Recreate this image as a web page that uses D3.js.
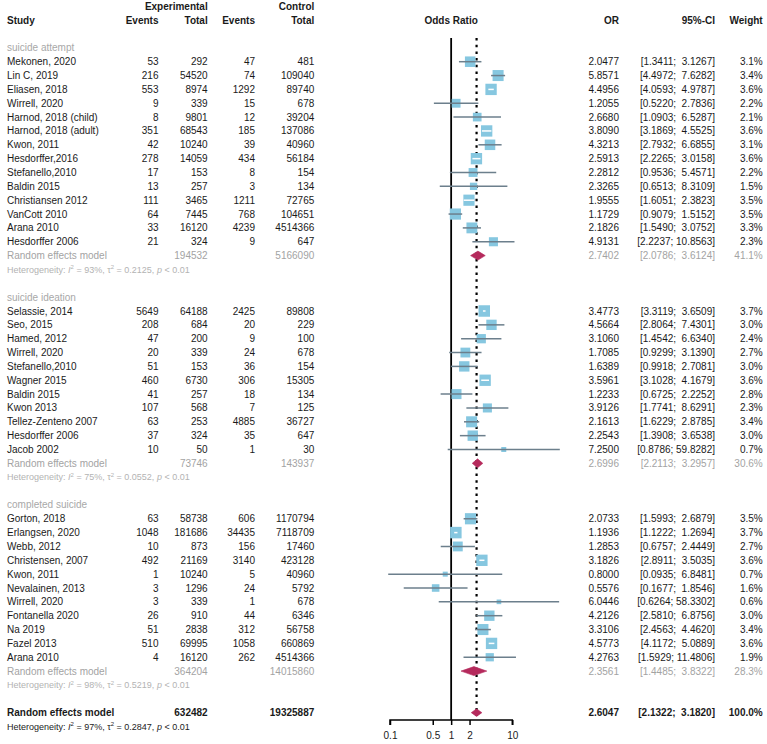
<!DOCTYPE html>
<html>
<head>
<meta charset="utf-8">
<script src="https://cdn.jsdelivr.net/npm/d3@7"></script>
<style>
  body { margin: 0; background: #fff; }
  svg { display: block; font-family: "Liberation Sans", Arial, sans-serif; }
  text { white-space: pre; }
</style>
</head>
<body>
<svg id="chart" width="767" height="744"></svg>
<script>
// study rows: name, exp events, exp total, ctrl events, ctrl total, OR, lower, upper, weight %
const attempt = [
  ["Mekonen, 2020", 53, 292, 47, 481, 2.0477, 1.3411, 3.1267, 3.1],
  ["Lin C, 2019", 216, 54520, 74, 109040, 5.8571, 4.4972, 7.6282, 3.4],
  ["Eliasen, 2018", 553, 8974, 1292, 89740, 4.4956, 4.0593, 4.9787, 3.6],
  ["Wirrell, 2020", 9, 339, 15, 678, 1.2055, 0.5220, 2.7836, 2.2],
  ["Harnod, 2018 (child)", 8, 9801, 12, 39204, 2.6680, 1.0903, 6.5287, 2.1],
  ["Harnod, 2018 (adult)", 351, 68543, 185, 137086, 3.8090, 3.1869, 4.5525, 3.6],
  ["Kwon, 2011", 42, 10240, 39, 40960, 4.3213, 2.7932, 6.6855, 3.1],
  ["Hesdorffer,2016", 278, 14059, 434, 56184, 2.5913, 2.2265, 3.0158, 3.6],
  ["Stefanello,2010", 17, 153, 8, 154, 2.2812, 0.9536, 5.4571, 2.2],
  ["Baldin 2015", 13, 257, 3, 134, 2.3265, 0.6513, 8.3109, 1.5],
  ["Christiansen 2012", 111, 3465, 1211, 72765, 1.9555, 1.6051, 2.3823, 3.5],
  ["VanCott 2010", 64, 7445, 768, 104651, 1.1729, 0.9079, 1.5152, 3.5],
  ["Arana 2010", 33, 16120, 4239, 4514366, 2.1826, 1.5490, 3.0752, 3.3],
  ["Hesdorffer 2006", 21, 324, 9, 647, 4.9131, 2.2237, 10.8563, 2.3]
];
const ideation = [
  ["Selassie, 2014", 5649, 64188, 2425, 89808, 3.4773, 3.3119, 3.6509, 3.7],
  ["Seo, 2015", 208, 684, 20, 229, 4.5664, 2.8064, 7.4301, 3.0],
  ["Hamed, 2012", 47, 200, 9, 100, 3.1060, 1.4542, 6.6340, 2.4],
  ["Wirrell, 2020", 20, 339, 24, 678, 1.7085, 0.9299, 3.1390, 2.7],
  ["Stefanello,2010", 51, 153, 36, 154, 1.6389, 0.9918, 2.7081, 3.0],
  ["Wagner 2015", 460, 6730, 306, 15305, 3.5961, 3.1028, 4.1679, 3.6],
  ["Baldin 2015", 41, 257, 18, 134, 1.2233, 0.6725, 2.2252, 2.8],
  ["Kwon 2013", 107, 568, 7, 125, 3.9126, 1.7741, 8.6291, 2.3],
  ["Tellez-Zenteno 2007", 63, 253, 4885, 36727, 2.1613, 1.6229, 2.8785, 3.4],
  ["Hesdorffer 2006", 37, 324, 35, 647, 2.2543, 1.3908, 3.6538, 3.0],
  ["Jacob 2002", 10, 50, 1, 30, 7.2500, 0.8786, 59.8282, 0.7]
];
const completed = [
  ["Gorton, 2018", 63, 58738, 606, 1170794, 2.0733, 1.5993, 2.6879, 3.5],
  ["Erlangsen, 2020", 1048, 181686, 34435, 7118709, 1.1936, 1.1222, 1.2694, 3.7],
  ["Webb, 2012", 10, 873, 156, 17460, 1.2853, 0.6757, 2.4449, 2.7],
  ["Christensen, 2007", 492, 21169, 3140, 423128, 3.1826, 2.8911, 3.5035, 3.6],
  ["Kwon, 2011", 1, 10240, 5, 40960, 0.8000, 0.0935, 6.8481, 0.7],
  ["Nevalainen, 2013", 3, 1296, 24, 5792, 0.5576, 0.1677, 1.8546, 1.6],
  ["Wirrell, 2020", 3, 339, 1, 678, 6.0446, 0.6264, 58.3302, 0.6],
  ["Fontanella 2020", 26, 910, 44, 6346, 4.2126, 2.5810, 6.8756, 3.0],
  ["Na 2019", 51, 2838, 312, 56758, 3.3106, 2.4563, 4.4620, 3.4],
  ["Fazel 2013", 510, 69995, 1058, 660869, 4.5773, 4.1172, 5.0889, 3.6],
  ["Arana 2010", 4, 16120, 262, 4514366, 4.2763, 1.5929, 11.4806, 1.9]
];
const subgroupNames = ["suicide attempt", "suicide ideation", "completed suicide"];
// pooled: exp total, ctrl total, OR, lower, upper, weight %
const pooled = [
  [194532, 5166090, 2.7402, 2.0786, 3.6124, 41.1],
  [73746, 143937, 2.6996, 2.2113, 3.2957, 30.6],
  [364204, 14015860, 2.3561, 1.4485, 3.8322, 28.3]
];
const heterogeneity = [
  ["93%", "0.2125", "< 0.01"],
  ["75%", "0.0552", "< 0.01"],
  ["98%", "0.5219", "< 0.01"]
];
const overall = [632482, 19325887, 2.6047, 2.1322, 3.1820, 100.0];
const overallHeterogeneity = ["97%", "0.2847", "< 0.01"];
const axisTicks = [0.1, 0.5, 1, 2, 10];

const svg = d3.select('#chart');
const groups = [attempt, ideation, completed];

// build the row layout: index -> what goes there
const rows = [];
let r = 0;
groups.forEach(function(g, gi) {
  rows.push({ type: 'label', row: r++, text: subgroupNames[gi] });
  g.forEach(function(d) { rows.push({ type: 'study', row: r++, d: d }); });
  rows.push({ type: 'pooled', row: r++, d: pooled[gi] });
  rows.push({ type: 'het', row: r++, d: heterogeneity[gi] });
  r++;
});
rows.push({ type: 'overall', row: r++, d: overall });
rows.push({ type: 'het-overall', row: r++, d: overallHeterogeneity });

const y = d3.scaleLinear().domain([0, 1]).range([47.85, 61.7]);
const x = d3.scaleLog().domain([0.1, 10]).range([390, 512.3]);
const boxSize = d3.scaleSqrt().domain([0, 3.7]).range([0, 11.5]);

const col = { name: 7, ee: 158.5, ne: 207.7, ec: 255, nc: 314.3, or: 619, ci: 715, w: 762.7 };

function txt(xp, yp, s, anchor, opts) {
  opts = opts || {};
  return svg.append('text')
    .attr('x', xp).attr('y', yp).attr('dy', '0.35em')
    .attr('text-anchor', anchor)
    .attr('font-size', opts.size || 10)
    .attr('font-weight', opts.bold ? 'bold' : null)
    .attr('fill', opts.fill || '#1a1a1a')
    .text(s);
}
const ciText = (lo, hi) => '[' + lo.toFixed(4) + '; ' + (hi < 10 ? ' ' : '') + hi.toFixed(4) + ']';

// headers
txt(col.ne, y(-3), 'Experimental', 'end', { bold: true });
txt(col.nc, y(-3), 'Control', 'end', { bold: true });
txt(col.name, y(-2), 'Study', 'start', { bold: true });
txt(col.ee, y(-2), 'Events', 'end', { bold: true });
txt(col.ne, y(-2), 'Total', 'end', { bold: true });
txt(col.ec, y(-2), 'Events', 'end', { bold: true });
txt(col.nc, y(-2), 'Total', 'end', { bold: true });
txt(x(1), y(-2), 'Odds Ratio', 'middle', { bold: true });
txt(col.or, y(-2), 'OR', 'end', { bold: true });
txt(col.ci, y(-2), '95%-CI', 'end', { bold: true });
txt(col.w, y(-2), 'Weight', 'end', { bold: true });

// reference lines
const axisY = 720;
svg.append('line')
  .attr('x1', x(1)).attr('x2', x(1))
  .attr('y1', 38).attr('y2', axisY)
  .attr('stroke', '#000').attr('stroke-width', 1.8);
svg.append('line')
  .attr('x1', x(overall[2])).attr('x2', x(overall[2]))
  .attr('y1', 38).attr('y2', 716)
  .attr('stroke', '#000').attr('stroke-width', 2.2)
  .attr('stroke-dasharray', '2.5,4.2');

function heteroLine(yp, d, fill) {
  const t = svg.append('text')
    .attr('x', col.name).attr('y', yp).attr('dy', '0.35em')
    .attr('font-size', 9).attr('fill', fill);
  t.append('tspan').text('Heterogeneity: ');
  t.append('tspan').attr('font-style', 'italic').text('I');
  t.append('tspan').attr('font-size', 6).attr('dy', -3.5).text('2');
  t.append('tspan').attr('dy', 3.5).text(' = ' + d[0] + ', \u03c4');
  t.append('tspan').attr('font-size', 6).attr('dy', -3.5).text('2');
  t.append('tspan').attr('dy', 3.5).text(' = ' + d[1] + ', ');
  t.append('tspan').attr('font-style', 'italic').text('p');
  t.append('tspan').text(' ' + d[2]);
}

function diamond(yp, d, half) {
  const pts = [[x(d[3]), yp], [x(d[2]), yp - half], [x(d[4]), yp], [x(d[2]), yp + half]];
  svg.append('polygon')
    .attr('points', pts.map(p => p.join(',')).join(' '))
    .attr('fill', '#b52a5c').attr('stroke', '#b52a5c').attr('stroke-width', 0.6);
}

rows.forEach(function(rw) {
  const yp = y(rw.row);
  const d = rw.d;
  if (rw.type === 'label') {
    txt(col.name, yp, rw.text, 'start', { fill: '#a8a8a8' });
  } else if (rw.type === 'study') {
    txt(col.name, yp, d[0], 'start');
    txt(col.ee, yp, d[1], 'end');
    txt(col.ne, yp, d[2], 'end');
    txt(col.ec, yp, d[3], 'end');
    txt(col.nc, yp, d[4], 'end');
    txt(col.or, yp, d[5].toFixed(4), 'end');
    txt(col.ci, yp, ciText(d[6], d[7]), 'end');
    txt(col.w, yp, d[8].toFixed(1) + '%', 'end');
    const s = boxSize(d[8]);
    svg.append('rect')
      .attr('x', x(d[5]) - s / 2).attr('y', yp - s / 2)
      .attr('width', s).attr('height', s)
      .attr('fill', '#86c7e0');
    const inside = (x(d[7]) - x(d[6])) < s;
    svg.append('line')
      .attr('x1', x(d[6])).attr('x2', x(d[7]))
      .attr('y1', yp).attr('y2', yp)
      .attr('stroke', inside ? '#ffffff' : '#6c7f8c')
      .attr('stroke-width', 1.5);
  } else if (rw.type === 'pooled') {
    const g = '#a3a3a3';
    txt(col.name, yp, 'Random effects model', 'start', { fill: g });
    txt(col.ne, yp, d[0], 'end', { fill: g });
    txt(col.nc, yp, d[1], 'end', { fill: g });
    txt(col.or, yp, d[2].toFixed(4), 'end', { fill: g });
    txt(col.ci, yp, ciText(d[3], d[4]), 'end', { fill: g });
    txt(col.w, yp, d[5].toFixed(1) + '%', 'end', { fill: g });
    diamond(yp, d, 4.5);
  } else if (rw.type === 'het') {
    heteroLine(yp, d, '#b3b3b3');
  } else if (rw.type === 'overall') {
    txt(col.name, yp, 'Random effects model', 'start', { bold: true });
    txt(col.ne, yp, d[0], 'end', { bold: true });
    txt(col.nc, yp, d[1], 'end', { bold: true });
    txt(col.or, yp, d[2].toFixed(4), 'end', { bold: true });
    txt(col.ci, yp, ciText(d[3], d[4]), 'end', { bold: true });
    txt(col.w, yp, d[5].toFixed(1) + '%', 'end', { bold: true });
    diamond(yp, d, 3.8);
  } else if (rw.type === 'het-overall') {
    heteroLine(yp, d, '#222');
  }
});

// x axis
const axis = svg.append('g')
  .attr('transform', 'translate(0,' + axisY + ')')
  .call(d3.axisBottom(x).tickValues(axisTicks).tickFormat(d3.format('')).tickSize(5).tickPadding(7));
axis.select('.domain').attr('stroke', '#000').attr('stroke-width', 1.5).attr('d', 'M' + x(0.1) + ',5V0H' + x(10) + 'V5');
axis.selectAll('.tick line').attr('stroke', '#000').attr('stroke-width', 1.5);
axis.selectAll('.tick text')
  .attr('font-family', '"Liberation Sans", Arial, sans-serif')
  .attr('font-size', 10).attr('fill', '#1a1a1a');
</script>
</body>
</html>
